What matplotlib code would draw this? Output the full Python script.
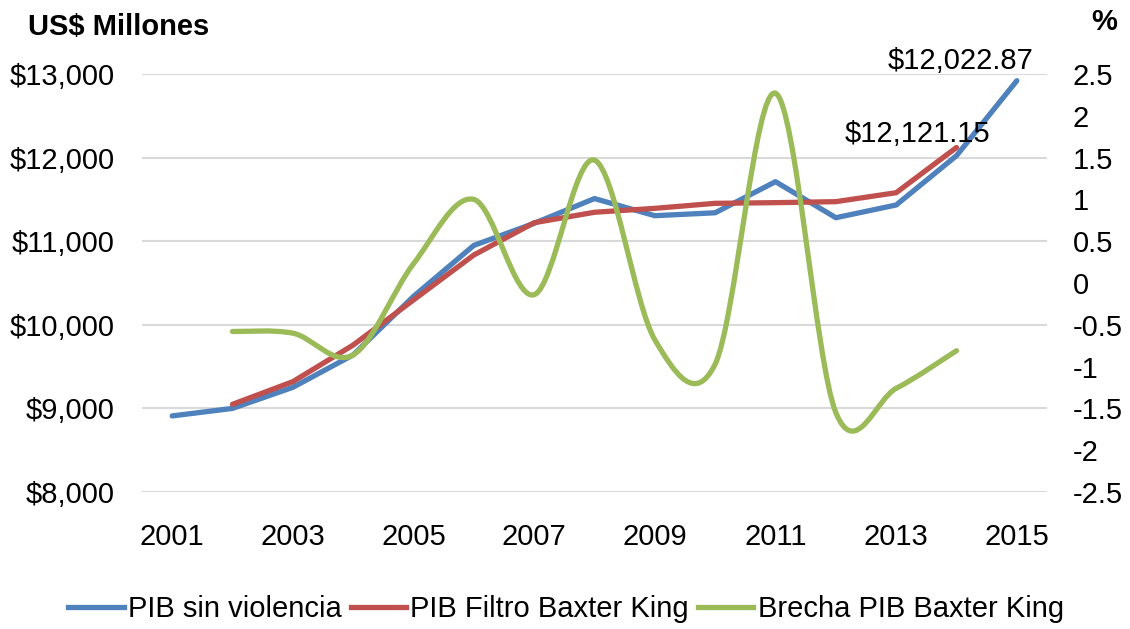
import matplotlib
matplotlib.use("Agg")
import matplotlib.pyplot as plt
from matplotlib.path import Path
from matplotlib.patches import PathPatch
from matplotlib.lines import Line2D
from matplotlib.ticker import FuncFormatter

plt.rcParams['font.family'] = ['Liberation Sans', 'DejaVu Sans']

years = list(range(2001, 2016))
pib_sin_violencia = [8910, 9000, 9252, 9640, 10340, 10950, 11214, 11510,
                     11305, 11340, 11712, 11281, 11433, 12022.87, 12920]
years_bk = list(range(2002, 2015))
pib_filtro_bk = [9049, 9320, 9758, 10297, 10835, 11221, 11346, 11393,
                 11453, 11461, 11473, 11580, 12121.15]
brecha_bk = [-0.58, -0.60, -0.86, 0.23, 1.00, -0.14, 1.47, -0.68,
             -0.97, 2.27, -1.55, -1.26, -0.81]

left_ticks = [8000, 9000, 10000, 11000, 12000, 13000]
right_ticks = [-2.5, -2, -1.5, -1, -0.5, 0, 0.5, 1, 1.5, 2, 2.5]
x_ticks = [2001, 2003, 2005, 2007, 2009, 2011, 2013, 2015]

BLUE = '#4F81BD'
RED = '#C0504D'
GREEN = '#9BBB59'
FS = 21

fig = plt.figure(figsize=(11.3, 6.29), dpi=100)
W, H = 1130, 629
ax = fig.add_axes([142 / W, 1 - 492 / H, (1047 - 142) / W, (492 - 74) / H])
ax2 = ax.twinx()

ax.set_xlim(2000.5, 2015.5)
ax.set_ylim(8000, 13000)
ax2.set_ylim(-2.5, 2.5)

for a in (ax, ax2):
    for s in a.spines.values():
        s.set_visible(False)

ax.set_yticks(left_ticks)
ax.yaxis.set_major_formatter(FuncFormatter(lambda v, p: f"${v:,.0f}"))
ax.set_xticks(x_ticks)
ax.grid(axis='y', color='#d9d9d9', linewidth=1.5)
ax.set_axisbelow(True)
ax.tick_params(axis='y', length=0, pad=19.5, labelsize=FS)
ax.tick_params(axis='x', length=0, pad=22, labelsize=FS)

ax2.set_yticks(right_ticks)
ax2.yaxis.set_major_formatter(FuncFormatter(lambda v, p: f"{v:g}"))
ax2.tick_params(axis='y', length=0, pad=18.5, labelsize=FS)
for lbl in ax2.get_yticklabels():
    lbl.set_horizontalalignment('left')

lw = 3.8
ax.plot(years, pib_sin_violencia, color=BLUE, lw=lw, solid_capstyle='round', zorder=3)
ax.plot(years_bk, pib_filtro_bk, color=RED, lw=lw, solid_capstyle='round', zorder=4)

# Smoothed line (Excel-style Bezier smoothing) for the gap series
pts = list(zip(years_bk, brecha_bk))
verts = [pts[0]]
codes = [Path.MOVETO]
n = len(pts)
for i in range(n - 1):
    p0 = pts[i - 1] if i > 0 else pts[i]
    p1 = pts[i]
    p2 = pts[i + 1]
    p3 = pts[i + 2] if i + 2 < n else pts[i + 1]
    c1 = (p1[0] + (p2[0] - p0[0]) / 6, p1[1] + (p2[1] - p0[1]) / 6)
    c2 = (p2[0] - (p3[0] - p1[0]) / 6, p2[1] - (p3[1] - p1[1]) / 6)
    verts += [c1, c2, p2]
    codes += [Path.CURVE4] * 3
patch = PathPatch(Path(verts, codes), facecolor='none', edgecolor=GREEN,
                  lw=lw, capstyle='round', zorder=5)
ax2.add_patch(patch)

# Data labels
ax.annotate("$12,022.87", xy=(2014, pib_sin_violencia[13]), xytext=(4, 95),
            textcoords='offset pixels', ha='center', va='center', fontsize=FS)
ax.annotate("$12,121.15", xy=(2014, pib_filtro_bk[-1]), xytext=(-39, 13),
            textcoords='offset pixels', ha='center', va='center', fontsize=FS, zorder=6)

fig.text(28 / W, 1 - 27 / H, "US$ Millones", fontsize=FS, fontweight='bold',
         ha='left', va='center')
fig.text(1104 / W, 1 - 22 / H, "%", fontsize=FS, fontweight='bold',
         ha='center', va='center')

handles = [Line2D([], [], color=BLUE, lw=lw),
           Line2D([], [], color=RED, lw=lw),
           Line2D([], [], color=GREEN, lw=lw)]
labels = ["PIB sin violencia", "PIB Filtro Baxter King", "Brecha PIB Baxter King"]
fig.legend(handles, labels, loc='center', bbox_to_anchor=(566 / W, 1 - 609 / H),
           ncol=3, frameon=False, fontsize=FS, handlelength=1.9,
           handletextpad=0.15, columnspacing=0.3)

fig.savefig("out.png", dpi=100)
